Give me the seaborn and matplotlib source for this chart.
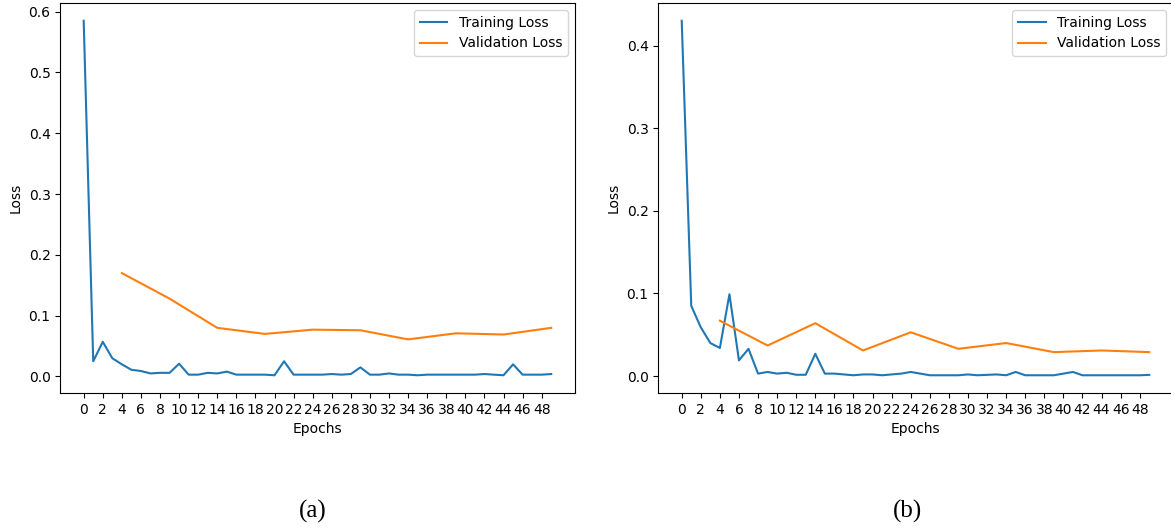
import numpy as np
import pandas as pd
import seaborn as sns
import matplotlib.pyplot as plt

# epochs
epochs = list(range(50))
val_epochs = [4, 9, 14, 19, 24, 29, 34, 39, 44, 49]

# (a) losses
train_a = [0.585, 0.025, 0.057, 0.030, 0.020, 0.011, 0.009, 0.005, 0.006, 0.006,
           0.021, 0.003, 0.003, 0.006, 0.005, 0.008, 0.003, 0.003, 0.003, 0.003,
           0.002, 0.025, 0.003, 0.003, 0.003, 0.003, 0.004, 0.003, 0.004, 0.015,
           0.003, 0.003, 0.005, 0.003, 0.003, 0.002, 0.003, 0.003, 0.003, 0.003,
           0.003, 0.003, 0.004, 0.003, 0.002, 0.020, 0.003, 0.003, 0.003, 0.004]
val_a = [0.170, 0.128, 0.080, 0.070, 0.077, 0.076, 0.061, 0.071, 0.069, 0.080]

# (b)
train_b = [0.430, 0.085, 0.059, 0.040, 0.034, 0.099, 0.019, 0.033, 0.003, 0.005,
           0.003, 0.004, 0.0016, 0.0016, 0.027, 0.003, 0.003, 0.002, 0.001, 0.002,
           0.002, 0.001, 0.002, 0.003, 0.005, 0.003, 0.001, 0.001, 0.001, 0.001,
           0.002, 0.001, 0.0015, 0.002, 0.001, 0.005, 0.001, 0.001, 0.001, 0.001,
           0.003, 0.005, 0.001, 0.001, 0.001, 0.001, 0.001, 0.001, 0.001, 0.0015]
val_b = [0.067, 0.037, 0.064, 0.031, 0.053, 0.033, 0.040, 0.029, 0.031, 0.029]

fig = plt.figure(figsize=(11.71, 5.28), dpi=100)
ax_a = fig.add_axes([0.0515, 0.2557, 0.4392, 0.7386])
ax_b = fig.add_axes([0.5622, 0.2557, 0.4392, 0.7386])

for ax, tr, va in [(ax_a, train_a, val_a), (ax_b, train_b, val_b)]:
    sns.lineplot(x=epochs, y=tr, ax=ax, color='#1f77b4', label='Training Loss', linewidth=1.5)
    sns.lineplot(x=val_epochs, y=va, ax=ax, color='#ff7f0e', label='Validation Loss', linewidth=1.5)
    ax.set_xticks(range(0, 50, 2))
    ax.set_xlabel('Epochs')
    ax.set_ylabel('Loss')
    ax.legend(loc='upper right')

fig.text(313 / 1171, 1 - 511 / 528, '(a)', ha='center', va='center',
         family='Liberation Serif', fontsize=18)
fig.text(908 / 1171, 1 - 511 / 528, '(b)', ha='center', va='center',
         family='Liberation Serif', fontsize=18)

plt.savefig('out.png', dpi=100)
